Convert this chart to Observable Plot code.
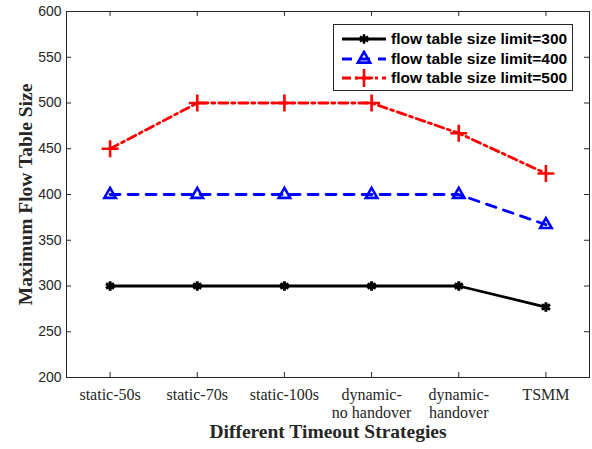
<!DOCTYPE html>
<html>
<head>
<meta charset="utf-8">
<script src="https://cdn.jsdelivr.net/npm/d3@7"></script>
<script src="https://cdn.jsdelivr.net/npm/@observablehq/plot@0.6"></script>
<style>
  body { margin: 0; background: #fff; }
  #wrap { position: relative; width: 592px; height: 449px; }
  #legend { position: absolute; left: 333px; top: 24px; width: 238px; height: 65px;
    border: 1px solid #262626; background: #fff; font-family: "Liberation Sans", Arial, sans-serif;
    font-weight: bold; font-size: 15.5px; color: #000; }
  .row { position: absolute; left: 0; height: 18px; display: flex; align-items: center; }
  .row svg { margin-left: 8px; }
  .row span { margin-left: 5px; white-space: nowrap; }
</style>
</head>
<body>
<div id="wrap"></div>
<script>
const categories = ["static-50s", "static-70s", "static-100s", "dynamic-\nno handover", "dynamic-\nhandover", "TSMM"];
const limit300 = [300, 300, 300, 300, 300, 277];
const limit400 = [400, 400, 400, 400, 400, 367];
const limit500 = [450, 500, 500, 500, 467, 423];
const yTicks = [200, 250, 300, 350, 400, 450, 500, 550, 600];
const seriesNames = ["flow table size limit=300", "flow table size limit=400", "flow table size limit=500"];

const xIdx = categories.map((_, i) => i + 1);
const rows = (vals, s) => vals.map((v, i) => ({x: i + 1, y: v, s}));
const d300 = rows(limit300, seriesNames[0]);
const d400 = rows(limit400, seriesNames[1]);
const d500 = rows(limit500, seriesNames[2]);

const W = 592, H = 449, mL = 66, mR = 3, mT = 11, mB = 72;
const innerW = W - mL - mR, innerH = H - mT - mB;
const tk = 5;

const chart = Plot.plot({
  width: W, height: H,
  marginLeft: mL, marginRight: mR, marginTop: mT, marginBottom: mB,
  x: {type: "linear", domain: [0.5, 6.5]},
  y: {domain: [200, 600]},
  marks: [
    Plot.frame({stroke: "#262626", strokeWidth: 1}),
    Plot.tickX(xIdx, {x: d => d, insetTop: innerH - tk, stroke: "#262626"}),
    Plot.tickX(xIdx, {x: d => d, insetBottom: innerH - tk, stroke: "#262626"}),
    Plot.tickY(yTicks, {y: d => d, insetRight: innerW - tk, stroke: "#262626"}),
    Plot.tickY(yTicks, {y: d => d, insetLeft: innerW - tk, stroke: "#262626"}),
    Plot.axisY({ticks: yTicks, tickSize: 0, tickPadding: 5, label: null,
      fontFamily: "Liberation Sans, Arial, sans-serif", fontSize: 14, fill: "#262626"}),
    Plot.axisX({ticks: xIdx, tickSize: 0, tickPadding: 9, label: null,
      tickFormat: i => categories[i - 1], lineHeight: 1.15,
      fontFamily: "Liberation Serif, Times New Roman, serif", fontSize: 16, fill: "#262626"}),
    Plot.text(["Different Timeout Strategies"], {frameAnchor: "bottom", dy: 54, lineAnchor: "middle",
      fontFamily: "Liberation Serif, Times New Roman, serif", fontWeight: "bold", fontSize: 19.5, fill: "#262626"}),
    Plot.text(["Maximum Flow Table Size"], {frameAnchor: "left", dx: -41, rotate: -90, lineAnchor: "middle",
      textAnchor: "middle",
      fontFamily: "Liberation Serif, Times New Roman, serif", fontWeight: "bold", fontSize: 19.5, fill: "#262626"}),
    Plot.line(d300, {x: "x", y: "y", stroke: "#000", strokeWidth: 2.8}),
    Plot.dot(d300, {x: "x", y: "y", symbol: "asterisk", r: 4.5, stroke: "#000", strokeWidth: 3}),
    Plot.line(d400, {x: "x", y: "y", stroke: "#0000ff", strokeWidth: 2.8, strokeDasharray: "10,8"}),
    Plot.dot(d400, {x: "x", y: "y", symbol: "triangle2", r: 5.5, stroke: "#0000ff", strokeWidth: 2.6}),
    Plot.line(d500, {x: "x", y: "y", stroke: "#ff0000", strokeWidth: 2.8, strokeDasharray: "9,4,3,4"}),
    Plot.dot(d500, {x: "x", y: "y", symbol: "plus", r: 5.5, stroke: "#ff0000", strokeWidth: 2.6})
  ]
});

const wrap = document.getElementById("wrap");
wrap.appendChild(chart);

// Legend
const legend = document.createElement("div");
legend.id = "legend";
const styles = [
  {stroke: "#000", dash: null, sym: "asterisk"},
  {stroke: "#0000ff", dash: "10,8", sym: "triangle2"},
  {stroke: "#ff0000", dash: "9,4,3,4", sym: "plus"}
];
const symGen = {asterisk: d3.symbolAsterisk, triangle2: d3.symbolTriangle2, plus: d3.symbolPlus};
seriesNames.forEach((name, i) => {
  const row = document.createElement("div");
  row.className = "row";
  row.style.top = (5 + i * 19.5) + "px";
  const st = styles[i];
  const size = i === 0 ? 64 : 110;
  const path = d3.symbol(symGen[st.sym], size)();
  row.innerHTML = `<svg width="44" height="18"><line x1="0" x2="44" y1="9" y2="9" stroke="${st.stroke}" stroke-width="2.8" ${st.dash ? `stroke-dasharray="${st.dash}"` : ""}/><path d="${path}" transform="translate(22,9)" fill="none" stroke="${st.stroke}" stroke-width="2.6"/></svg><span>${name}</span>`;
  legend.appendChild(row);
});
wrap.appendChild(legend);
</script>
</body>
</html>
